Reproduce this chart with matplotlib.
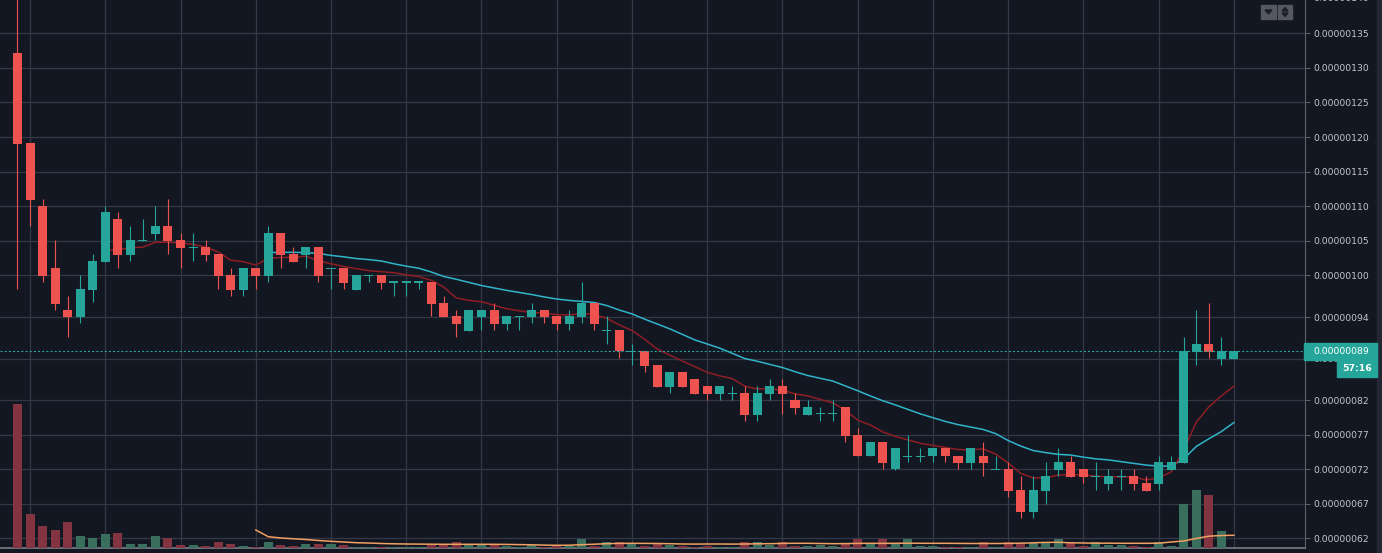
import matplotlib
matplotlib.use("Agg")
import matplotlib.pyplot as plt
from matplotlib.patches import Rectangle, Polygon
import numpy as np

plt.rcParams['lines.scale_dashes'] = False
plt.rcParams['font.family'] = ['DejaVu Sans']

# ---------------- data (prices in units of 1e-9) ----------------
opens = [132.2, 119.1, 110.0, 101.1, 95.0, 94.05, 97.95, 102.0, 108.2, 103.0,
         105.0, 106.0, 107.15, 105.1, 104.1, 104.1, 103.1, 100.07, 97.95, 101.1,
         99.97, 106.1, 103.1, 103.0, 104.1, 101.0, 101.1, 97.9, 100.0, 100.07,
         99.06, 99.06, 99.06, 99.06, 96.0, 94.1, 92.0, 94.0, 95.0, 93.0,
         94.1, 94.0, 95.0, 94.1, 93.0, 94.0, 96.0, 92.1, 92.1, 89.05,
         89.05, 87.05, 83.9, 86.05, 85.05, 84.0, 82.9, 82.9, 83.0, 79.9,
         82.9, 84.0, 82.0, 79.9, 80.0, 80.0, 81.0, 76.95, 73.9, 75.9,
         72.0, 73.9, 73.9, 73.9, 75.1, 73.9, 72.9, 73.9, 72.0, 72.0,
         69.0, 65.8, 68.9, 71.9, 73.0, 72.0, 71.0, 69.9, 71.0, 71.0,
         70.0, 69.9, 71.9, 72.9, 88.9, 90.1, 87.9, 87.9]
highs = [142.0, 119.1, 111.05, 105.1, 97.0, 100.07, 103.1, 110.0, 109.2, 107.15,
         108.2, 110.0, 111.05, 106.1, 106.1, 105.1, 103.1, 101.1, 101.1, 101.1,
         107.15, 106.1, 104.1, 104.1, 104.1, 101.0, 101.1, 100.07, 100.0, 100.07,
         99.06, 99.06, 99.06, 99.06, 97.0, 95.0, 95.0, 95.0, 96.0, 94.1,
         94.1, 96.0, 95.0, 94.1, 95.0, 99.06, 96.0, 94.1, 92.1, 90.1,
         89.05, 87.05, 86.05, 86.05, 85.05, 84.0, 84.0, 84.0, 84.0, 84.0,
         85.05, 85.05, 83.0, 82.0, 81.0, 82.0, 81.0, 78.0, 75.9, 75.9,
         75.1, 76.95, 75.1, 75.1, 75.1, 73.9, 75.1, 75.9, 73.9, 73.0,
         71.0, 71.0, 73.0, 75.1, 73.9, 72.0, 73.0, 72.0, 72.0, 72.0,
         71.0, 73.9, 73.9, 91.1, 95.0, 96.0, 91.1, 89.05]
lows = [98.1, 107.2, 99.1, 95.06, 91.15, 93.2, 96.1, 102.0, 101.1, 102.1,
        105.0, 105.1, 103.1, 101.1, 102.1, 102.1, 98.1, 97.1, 97.1, 98.1,
        99.1, 101.1, 102.0, 101.1, 99.06, 98.0, 98.0, 97.9, 99.06, 98.0,
        97.0, 97.0, 98.0, 94.1, 94.0, 91.1, 92.0, 92.1, 92.1, 92.1,
        92.1, 93.1, 93.1, 92.1, 92.1, 93.1, 92.1, 90.1, 88.1, 87.05,
        86.05, 83.9, 83.0, 83.9, 82.9, 82.0, 82.0, 82.0, 79.0, 79.0,
        82.0, 80.0, 80.0, 79.9, 79.0, 79.0, 75.9, 73.9, 73.9, 72.0,
        71.9, 73.0, 73.0, 73.0, 73.0, 72.0, 72.0, 71.0, 72.0, 68.0,
        65.0, 65.0, 67.0, 71.0, 70.9, 70.0, 69.0, 69.0, 69.0, 69.0,
        68.9, 69.0, 71.9, 72.9, 87.05, 88.1, 87.05, 87.9]
closes = [119.0, 110.95, 99.97, 95.9, 94.05, 98.05, 102.1, 109.2, 103.0, 105.1,
          105.0, 107.15, 105.0, 104.0, 104.1, 103.0, 99.97, 97.95, 101.1, 99.97,
          106.1, 103.0, 102.0, 104.1, 99.9, 101.0, 98.9, 100.07, 100.0, 98.9,
          99.06, 99.06, 99.06, 95.9, 94.0, 93.0, 95.0, 95.0, 93.0, 94.1,
          94.1, 95.0, 94.0, 93.0, 94.1, 96.0, 93.0, 92.1, 89.1, 89.05,
          86.9, 83.9, 86.05, 83.9, 82.9, 82.9, 84.0, 82.9, 79.9, 83.0,
          84.0, 82.9, 80.9, 81.0, 80.0, 80.0, 76.8, 73.9, 75.9, 72.9,
          75.1, 73.9, 73.9, 75.1, 73.9, 72.9, 75.1, 72.9, 72.0, 68.9,
          65.8, 69.0, 71.0, 73.0, 70.9, 70.9, 71.0, 71.0, 71.0, 69.9,
          68.9, 73.0, 73.0, 89.05, 90.1, 88.9, 89.05, 89.05]
volumes = [144, 34, 22, 18, 26, 12, 10, 14, 15, 4,
           4, 12, 10, 3, 3, 2, 6, 4, 2, 1,
           6, 3, 2, 4, 4, 4, 3, 1, 1, 1,
           1, 1, 1, 3, 3, 6, 3, 3, 3, 2,
           1, 3, 1, 2, 2, 9, 2, 6, 6, 5,
           2, 5, 3, 2, 1, 2, 1, 1, 6, 6,
           3, 6, 2, 2, 3, 2, 5, 9, 5, 9,
           5, 9, 2, 2, 1, 1, 1, 6, 1, 6,
           5, 5, 5, 9, 6, 2, 6, 3, 3, 2,
           1, 6, 2, 44, 58, 53, 17, 0]

ma_fast_start = 7
ma_fast = [103.6, 103.7, 104.0, 104.1, 104.8, 104.8, 104.7, 104.5, 104.1, 103.4,
           102.2, 102.0, 101.5, 102.5, 102.6, 102.6, 102.8, 102.1, 101.7, 101.3,
           101.0, 100.7, 100.55, 100.4, 100.1, 99.85, 99.3, 98.3, 96.75, 96.4,
           96.2, 95.7, 95.2, 94.9, 94.65, 94.55, 94.35, 94.3, 94.5, 94.35,
           93.8, 92.85, 92.05, 90.8, 89.4, 88.5, 87.65, 86.85, 86.0, 85.5,
           85.1, 84.0, 83.6, 83.65, 83.4, 82.9, 82.6, 82.1, 81.6, 80.55,
           79.1, 78.4, 77.4, 76.75, 76.25, 75.75, 75.45, 75.15, 74.85, 74.8,
           74.95, 74.2, 72.9, 71.4, 70.75, 70.8, 71.15, 71.25, 71.15, 71.0,
           70.9, 70.9, 70.9, 70.45, 70.75, 71.6, 74.8, 78.8, 81.0, 82.6, 84.0]
ma_slow_start = 20
ma_slow = [103.3, 103.35, 103.35, 103.3, 103.2, 102.9, 102.7, 102.45, 102.3, 102.1,
           101.7, 101.35, 101.05, 100.5, 99.85, 99.45, 99.0, 98.55, 98.2, 97.85,
           97.55, 97.25, 96.9, 96.6, 96.4, 96.25, 96.1, 95.65, 95.0, 94.45,
           93.7, 93.0, 92.3, 91.5, 90.7, 90.1, 89.5, 88.75, 88.0, 87.6,
           87.15, 86.7, 86.1, 85.55, 85.15, 84.75, 84.05, 83.35, 82.6, 81.9,
           81.3, 80.65, 80.0, 79.45, 78.9, 78.45, 78.1, 77.75, 77.15, 76.15,
           75.35, 74.7, 74.4, 74.15, 74.05, 73.75, 73.5, 73.35, 73.1, 72.85,
           72.6, 72.45, 72.45, 73.5, 75.3, 76.4, 77.45, 78.75]
vol_ma_start = 19
vol_ma = [18, 11.3, 10, 9.2, 8.5, 7.5, 6.7, 6, 5.3, 5,
          4.5, 4.2, 4, 3.9, 3.8, 3.7, 3.7, 3.7, 3.7, 3.7,
          3.6, 3.4, 3.2, 2.9, 2.7, 2.8, 3.3, 3.8, 4.3, 4.6,
          4.7, 4.6, 4.5, 4.3, 4.0, 3.9, 4.0, 4.0, 3.9, 4.0,
          4.2, 4.3, 4.6, 4.7, 4.7, 4.5, 4.3, 4.4, 4.6, 4.7,
          4.6, 4.7, 4.8, 4.7, 4.7, 4.7, 4.6, 4.5, 4.5, 4.5,
          4.6, 4.8, 5.2, 5.6, 5.7, 5.2, 5.0, 4.8, 4.8, 4.7,
          4.7, 4.7, 4.8, 6.0, 7.0, 9.5, 11.8, 12.5, 12.7]

tick_values = [62, 67, 72, 77, 82, 88, 94, 100, 105, 110, 115, 120, 125, 130, 135]
tick_labels = ["0.00000062", "0.00000067", "0.00000072", "0.00000077", "0.00000082",
               "0.00000088", "0.00000094", "0.00000100", "0.00000105", "0.00000110",
               "0.00000115", "0.00000120", "0.00000125", "0.00000130", "0.00000135"]
top_tick_value = 140
top_tick_label = "0.00000140"
last_price = 89.05
last_price_label = "0.00000089"
countdown_label = "57:16"

# ---------------- style ----------------
BG = "#131722"
GRID = "#343846"
UP = "#26a69a"
DN = "#ef5350"
VUP = "#3a6f5d"
VDN = "#823540"
TXT = "#c3c6ce"
W, H = 1382, 553

fig = plt.figure(figsize=(W / 100, H / 100), dpi=100, facecolor=BG)
ax = fig.add_axes([0, 5 / H, 1305 / W, 548 / H])
ax.set_facecolor(BG)
ax_vol = ax.twinx()

x = np.arange(len(opens))
o = np.array(opens); hi = np.array(highs); lo = np.array(lows); c = np.array(closes)
up = c >= o
col = np.where(up, UP, DN)

# volume
ax_vol.bar(x, volumes, width=0.72, color=np.where(up, VUP, VDN), linewidth=0, zorder=2)
ax_vol.plot(np.arange(vol_ma_start, vol_ma_start + len(vol_ma)), vol_ma,
            color="#f0a060", lw=1.1, zorder=3)
ax_vol.set_ylim(0, 548)
ax_vol.set_yticks([])
for s in ax_vol.spines.values():
    s.set_visible(False)

# moving averages
ax.plot(np.arange(ma_slow_start, ma_slow_start + len(ma_slow)), ma_slow,
        color="#31b4c9", lw=1.1, zorder=2)
ax.plot(np.arange(ma_fast_start, ma_fast_start + len(ma_fast)), ma_fast,
        color="#8e1e24", lw=1.1, zorder=2)

# candles
ax.vlines(x, lo, hi, colors=col, lw=0.8, zorder=3)
body_h = np.maximum(np.abs(c - o), 0.15)
body_b = np.where(np.abs(c - o) < 0.15, o - 0.075, np.minimum(o, c))
ax.bar(x, body_h, bottom=body_b, width=0.72, color=col, linewidth=0, zorder=4)

# last price line
ax.axhline(last_price, color=UP, lw=0.8, ls=(0, (1.5, 1.5)), zorder=5)

ax.set_xlim(-1.3955, 102.67)
ax.set_ylim(60.62, 139.81)

# grid / axes
ax.set_yticks(tick_values)
ax.set_yticklabels(tick_labels)
ax.set_xticks(np.arange(1, 98, 6))
ax.grid(True, color=GRID, lw=0.9, zorder=0)
ax.set_axisbelow(True)
ax.yaxis.tick_right()
ax.tick_params(axis='y', direction='out', length=3.6, width=0.8, color="#5d606b",
               labelcolor=TXT, labelsize=6.7, pad=2.2)
ax.tick_params(axis='x', length=0, labelbottom=False)
for k, s in ax.spines.items():
    s.set_visible(k in ("right", "bottom"))
ax.spines['right'].set_color("#5d606b")
ax.spines['right'].set_linewidth(0.8)
ax.spines['bottom'].set_color("#7a7d87")
ax.spines['bottom'].set_linewidth(1.2)

ax.annotate(top_tick_label, xy=(1, top_tick_value), xycoords=ax.get_yaxis_transform(),
            xytext=(5.8, 0), textcoords='offset points', va='center', ha='left',
            color=TXT, fontsize=6.7, annotation_clip=False)

# price label boxes (pixel positions from the axes transform)
yd = ax.transData.transform((0, last_price))[1]
fig.add_artist(Rectangle((1304 / W, (yd - 8.3) / H), 73 / W, 16.7 / H,
                         transform=fig.transFigure, color=UP, zorder=10))
fig.text(1341 / W, yd / H, last_price_label, color="white", fontsize=6.7,
         ha='center', va='center', zorder=11)
fig.add_artist(Rectangle((1337 / W, (yd - 8.3 - 17.7) / H), 40 / W, 17.3 / H,
                         transform=fig.transFigure, color=UP, zorder=10))
fig.text(1357 / W, (yd - 8.3 - 9.0) / H, countdown_label, color="white", fontsize=6.7,
         fontweight='bold', ha='center', va='center', zorder=11)

# right edge strip
fig.add_artist(Rectangle((1377 / W, 0), 5 / W, 1, transform=fig.transFigure,
                         color="#232733", zorder=9))

# top-right buttons
def px(xp, yp):
    return (xp / W, 1 - yp / H)

fig.add_artist(Rectangle(px(1261, 19), 15 / W, 14 / H, transform=fig.transFigure,
                         color="#555862", zorder=10))
fig.add_artist(Rectangle(px(1278, 19), 14 / W, 14 / H, transform=fig.transFigure,
                         color="#555862", zorder=10))
fig.add_artist(Polygon([px(1265, 10), px(1272, 10), px(1268.5, 14)], closed=True,
                       transform=fig.transFigure, color="#1c1f27", zorder=11))
fig.add_artist(Polygon([px(1282, 11), px(1288, 11), px(1285, 7.5)], closed=True,
                       transform=fig.transFigure, color="#1c1f27", zorder=11))
fig.add_artist(Polygon([px(1282, 13), px(1288, 13), px(1285, 16.5)], closed=True,
                       transform=fig.transFigure, color="#1c1f27", zorder=11))

fig.savefig("out.png", dpi=100, facecolor=BG)
